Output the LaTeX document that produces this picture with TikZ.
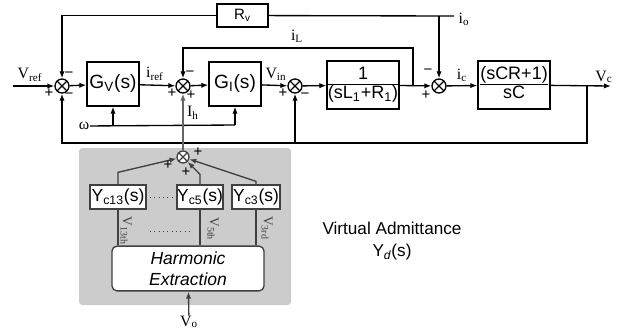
\documentclass[tikz,border=0pt]{standalone}
\usepackage{fontspec}
\setmainfont{Liberation Serif}
\setsansfont{Liberation Sans}
\usepackage{tikz}
\usetikzlibrary{arrows.meta}
\definecolor{dgray}{gray}{0.25}
\tikzset{ blk/.style = {rectangle, draw, inner sep=0pt, font=\sffamily\fontsize{11.5}{13}\selectfont} }
\tikzset{ frac_blk/.style = {blk, minimum width=43.2pt, minimum height=28.8pt, font=\sffamily\fontsize{10.8}{12}\selectfont} }
\tikzset{ yblk/.style = {rectangle, draw=dgray, fill=white, inner sep=0pt, minimum height=14.4pt, font=\sffamily\fontsize{10.5}{12}\selectfont} }
\tikzset{ sumj/.style = {circle, draw, fill=white, inner sep=0pt, minimum size=8.4pt,
  path picture={\draw (path picture bounding box.north west) -- (path picture bounding box.south east)
    (path picture bounding box.south west) -- (path picture bounding box.north east);}} }
\tikzset{ sig/.style = {inner sep=0pt, font=\fontsize{9.5}{10}\selectfont} }
\tikzset{ sgn/.style = {inner sep=0pt, font=\sffamily\fontsize{9}{9}\selectfont} }

\begin{document}
\begin{tikzpicture}[x=0.6pt, y=-0.6pt, line width=0.8pt, >={Latex[length=4.2pt,width=3.2pt]}]
            \useasboundingbox (0,0) rectangle (633,333);
            \fill[gray!40, rounded corners=2pt] (79,148) rectangle (291,305);
            % main loop
            \coordinate (in) at (13,86);
            \node[sumj] (s1) at (62,86) {};
            \node[blk, minimum width=31.2pt, minimum height=26.4pt] (gv) at (113,84) {G\textsubscript{V}(s)};
            \node[sumj] (s2) at (183,86) {};
            \node[blk, minimum width=31.2pt, minimum height=26.4pt] (gi) at (235,84) {G\textsubscript{I}(s)};
            \node[sumj] (s3) at (295,86) {};
            \node[frac_blk] (p1) at (363,85)
                {\begin{tabular}{@{}c@{}}1\\[-1pt]\hline(sL\textsubscript{1}+R\textsubscript{1})\end{tabular}};
            \node[sumj] (s4) at (439,86) {};
            \node[frac_blk] (p2) at (514,85)
                {\begin{tabular}{@{}c@{}}(sCR+1)\\[-1pt]\hline sC\end{tabular}};
            \coordinate (out) at (611,86);
            \node[blk, minimum width=30.6pt, minimum height=13.8pt, font=\sffamily\fontsize{9}{10}\selectfont] (rv) at (242.5,15.5) {R\textsubscript{v}};
            \coordinate (ioend) at (454,16);
            \coordinate (jo) at (439,16);
            \coordinate (jl) at (413,86);
            \coordinate (ltop) at (183,48);
            \coordinate (jc) at (587,86);
            \coordinate (fbl) at (62,143);
            \coordinate (jf) at (295,143);
            \node[sig] (w) at (84,126) {ω};
            \coordinate (wr) at (235,125);
            \draw[->] (in) -- (s1);
            \draw[->] (s1) -- (gv);
            \draw[->] (gv) -- (s2);
            \draw[->] (s2) -- (gi);
            \draw[->] (gi) -- (s3);
            \draw[->] (s3) -- (p1);
            \draw[->] (p1) -- (s4);
            \draw[->] (s4) -- (p2);
            \draw[->] (p2) -- (out);
            \draw (ioend) -- (rv);
            \draw[->] (rv) -| (s1);
            \draw[->] (jo) -- (s4);
            \draw[->] (jl) |- (ltop) -- (s2);
            \draw[->] (jc) |- (fbl) -- (s1);
            \draw[->] (jf) -- (s3);
            \draw (w) -- (wr);
            \draw[->] (gv.south |- wr) -- (gv);
            \draw[->] (wr) -- (gi);
            % signs
            \node[sgn] (s1a) at (49,93) {+};
            \node[sgn] (s1b) at (69,75) {−};
            \node[sgn] (s1c) at (69,96) {−};
            \node[sgn] (s2a) at (190,74) {−};
            \node[sgn] (s2b) at (172,93) {+};
            \node[sgn] (s2c) at (191,95) {+};
            \node[sgn] (s3a) at (283,93) {+};
            \node[sgn] (s3b) at (305,96) {−};
            \node[sgn] (s4a) at (428,72) {−};
            \node[sgn] (s4b) at (426,95) {+};
            % signal names
            \node[sig] (vref) at (30,75) {V\textsubscript{ref}};
            \node[sig] (iref) at (155,74) {i\textsubscript{ref}};
            \node[sig] (vin) at (276,74) {V\textsubscript{in}};
            \node[sig] (il) at (297,36) {i\textsubscript{L}};
            \node[sig, anchor=west] (io) at (458,19) {i\textsubscript{o}};
            \node[sig] (ic) at (462,75) {i\textsubscript{c}};
            \node[sig] (vc) at (604,77) {V\textsubscript{c}};
            \node[sig] (ih) at (193,113) {I\textsubscript{h}};
            % virtual admittance
            \node[sumj, draw=dgray, minimum size=7.2pt] (s5) at (183,157) {};
            \node[yblk, minimum width=33.6pt] (yc13) at (118,197) {Y\textsubscript{c13}(s)};
            \node[yblk, minimum width=27pt] (yc5) at (200,197) {Y\textsubscript{c5}(s)};
            \node[yblk, minimum width=28.8pt] (yc3) at (256,197) {Y\textsubscript{c3}(s)};
            \node[rectangle, rounded corners=3pt, draw=dgray, fill=white, minimum width=91.2pt, minimum height=24.6pt,
                  align=center, font=\sffamily\itshape\fontsize{10.5}{12.5}\selectfont] (hx) at (188,268.5) {Harmonic\\Extraction};
            \node[sig] (vo) at (189,322) {V\textsubscript{o}};
            \draw[->, black!60] (s5) -- (s2);
            \draw[->, dgray] (yc13.north) -- ++(0,-12) -- (s5);
            \draw[->, dgray] (yc5.north) -- ++(0,-10) -- (s5);
            \draw[->, dgray] (yc3.north) -- ++(0,-3) -- (s5);
            \draw[dgray] (yc13) -- (yc13 |- hx.north);
            \draw[dgray] (yc5) -- (yc5 |- hx.north);
            \draw[dgray] (yc3) -- (yc3 |- hx.north);
            \draw[->, dgray] (vo) -- (hx);
            \draw[dgray, dotted, line width=0.6pt] (150,197) -- (175,197);
            \draw[dgray, dotted, line width=0.6pt] (150,231) -- (190,231);
            \node[sig, dgray, rotate=-90, font=\fontsize{8}{9}\selectfont] (v13) at (126,231) {V\textsubscript{13th}};
            \node[sig, dgray, rotate=-90, font=\fontsize{8}{9}\selectfont] (v5) at (213,229) {V\textsubscript{5th}};
            \node[sig, dgray, rotate=-90, font=\fontsize{8}{9}\selectfont] (v3) at (267,228) {V\textsubscript{3rd}};
            \node[sgn] (s5a) at (168,165) {+};
            \node[sgn] (s5b) at (186,172) {+};
            \node[sgn] (s5c) at (198,152) {+};
            \node[align=center, font=\sffamily\fontsize{10.3}{13.2}\selectfont] (va) at (392,241)
                {Virtual Admittance\\Y\textsubscript{\itshape d}(s)};
        \end{tikzpicture}
\end{document}
